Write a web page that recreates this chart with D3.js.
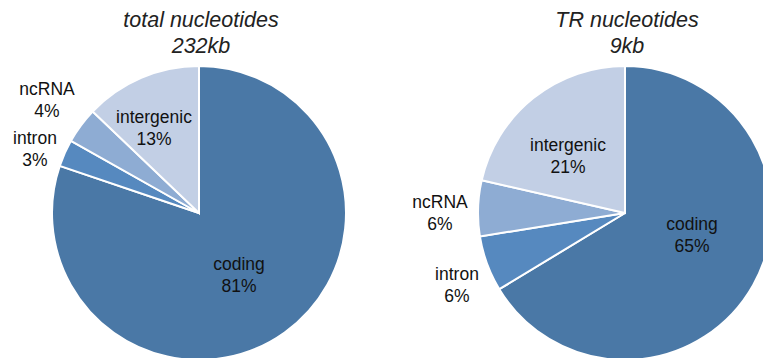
<!DOCTYPE html>
<html>
<head>
<meta charset="utf-8">
<script src="https://cdn.jsdelivr.net/npm/d3@7"></script>
<style>
  html, body { margin: 0; padding: 0; background: #fff; }
  svg { display: block; font-family: "Liberation Sans", Arial, sans-serif; }
</style>
</head>
<body>
<svg id="chart" width="763" height="358"></svg>
<script>
// Genomic categories, in clockwise order from 12 o'clock
const categories = ["coding", "intron", "ncRNA", "intergenic"];
// Percent of nucleotides per category
const totalValues = [81, 3, 4, 13];
const trValues = [65, 6, 6, 21];
// Panel titles
const titles = [["total nucleotides", "232kb"], ["TR nucleotides", "9kb"]];

const colors = d3.scaleOrdinal()
  .domain(categories)
  .range(["#4a78a6", "#5689bf", "#8eacd3", "#c2cfe5"]);

const svg = d3.select("#chart");
const radius = 147;

// Label anchors relative to each pie's centre (x, baseline of first line)
const labelLayout = [
  { coding: [40, 57], intron: [-164, -69], ncRNA: [-152, -118], intergenic: [-45, -90] },
  { coding: [67, 17], intron: [-168, 67], ncRNA: [-185, -5], intergenic: [-57, -62] }
];

const panels = [
  { cx: 199, cy: 213, values: totalValues, title: titles[0], labels: labelLayout[0] },
  { cx: 625, cy: 213, values: trValues, title: titles[1], labels: labelLayout[1] }
];

const pie = d3.pie().sort(null).value(d => d.value);
const arc = d3.arc().innerRadius(0).outerRadius(radius);

panels.forEach(p => {
  const data = categories.map((c, i) => ({ name: c, value: p.values[i] }));
  const g = svg.append("g").attr("transform", `translate(${p.cx},${p.cy})`);

  g.selectAll("path")
    .data(pie(data))
    .join("path")
    .attr("d", arc)
    .attr("fill", d => colors(d.data.name))
    .attr("stroke", "#fff")
    .attr("stroke-width", 2)
    .attr("stroke-linejoin", "miter");

  // title
  const t = svg.append("text")
    .attr("x", p.cx + 2)
    .attr("y", 27)
    .attr("text-anchor", "middle")
    .attr("font-style", "italic")
    .attr("font-size", 21.5)
    .attr("fill", "#222");
  t.append("tspan").attr("x", p.cx + 2).attr("y", 27).text(p.title[0]);
  t.append("tspan").attr("x", p.cx + 2).attr("y", 53).text(p.title[1]);

  // slice labels
  data.forEach(d => {
    const [lx, ly] = p.labels[d.name];
    const lab = g.append("text")
      .attr("text-anchor", "middle")
      .attr("font-size", 17.5)
      .attr("fill", "#111");
    lab.append("tspan").attr("x", lx).attr("y", ly).text(d.name);
    lab.append("tspan").attr("x", lx).attr("y", ly + 22).text(d.value + "%");
  });
});
</script>
</body>
</html>
